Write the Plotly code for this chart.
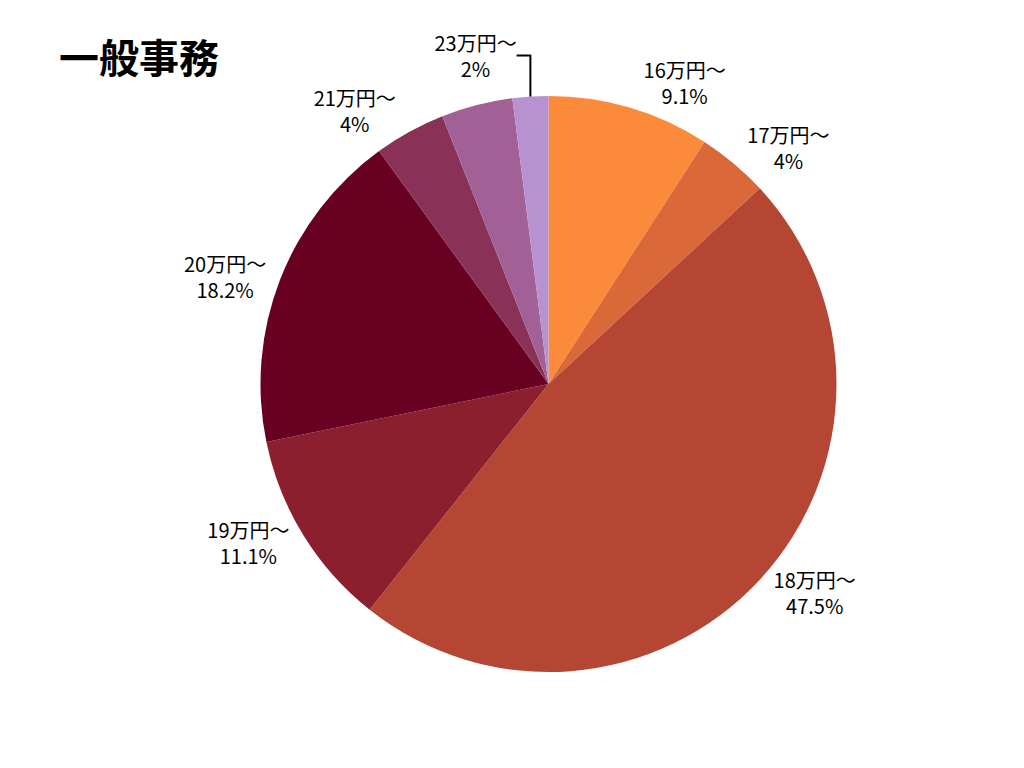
import plotly.graph_objects as go

labels = ["16万円～", "17万円～", "18万円～", "19万円～", "20万円～", "21万円～", "22万円～", "23万円～"]
values = [9.1, 4, 47.5, 11.1, 18.2, 4, 4, 2]
shown = ["9.1%", "4%", "47.5%", "11.1%", "18.2%", "4%", "", "2%"]
colors = ["#FB8B3B", "#DB6839", "#B54634", "#8C1F2E", "#680022", "#8A3158", "#A26196", "#B693D0"]

texts = [f"{l}<br>{s}" if s else "" for l, s in zip(labels, shown)]

fig = go.Figure(go.Pie(
    labels=labels, values=values, text=texts, textinfo="text",
    textposition="outside", sort=False, direction="clockwise", rotation=0,
    marker=dict(colors=colors, line=dict(width=0)),
    textfont=dict(size=20, color="#000000"), showlegend=False,
    domain=dict(x=[0, 0.93], y=[0, 1]),
))
fig.update_layout(
    width=1024, height=768, paper_bgcolor="white",
    margin=dict(l=0, r=0, t=88, b=104),
    font=dict(family="Noto Sans CJK JP"),
    annotations=[dict(text="<b>一般事務</b>", x=-0.16, y=1.07, xref="paper", yref="paper",
                      xanchor="left", yanchor="middle",
                      showarrow=False, font=dict(size=40, color="#000000"))],
)
fig.write_html("out.html")
